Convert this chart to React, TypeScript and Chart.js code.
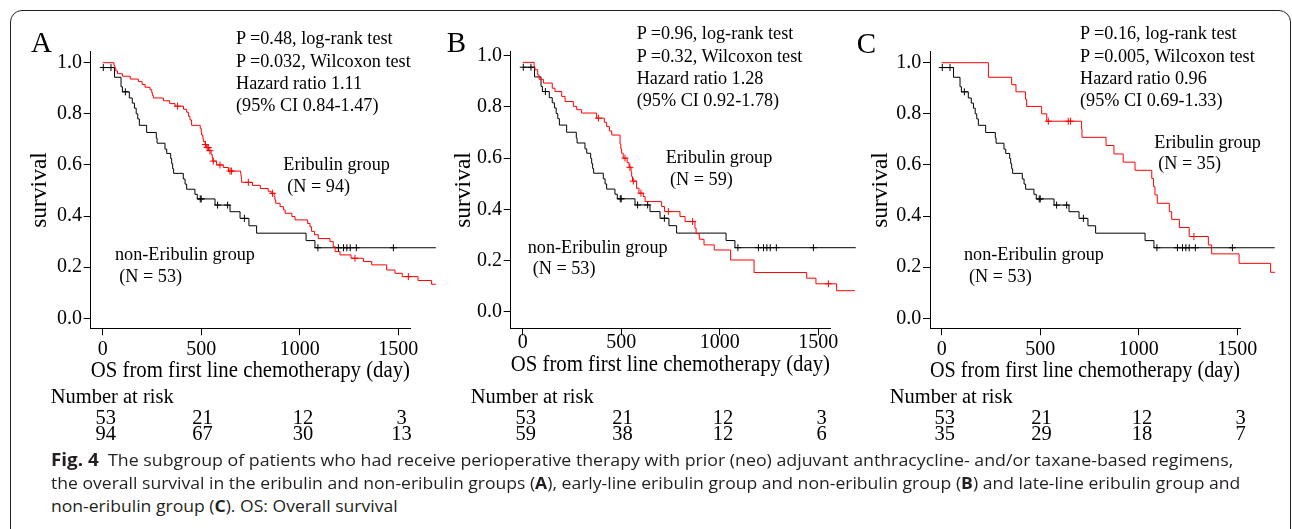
import React, { useEffect, useLayoutEffect, useRef } from "react";
import { Chart, registerables } from "chart.js";

Chart.register(...registerables);

const SERIF = "'Liberation Serif', 'Times New Roman', Times, serif";
const SANS = "'Open Sans', 'Noto Sans', 'DejaVu Sans', sans-serif";

// ---------- axes ----------
const X_TICKS = [0, 500, 1000, 1500];
const Y_TICKS = [0, 0.2, 0.4, 0.6, 0.8, 1.0];
const X_TITLE = "OS from first line chemotherapy (day)";
const Y_TITLE = "survival";

// ---------- non-Eribulin group (N = 53), read on the axes of panels A and C ----------
const nonEribDays = [0, 60, 93, 100, 135, 150, 161, 170, 178, 186, 223, 272, 276, 316, 325, 345, 350, 355, 360, 409, 418, 426, 468, 480, 570, 646, 697, 742, 781, 1032, 1077, 1690];
const nonEribSurv = [0.981, 0.943, 0.906, 0.886, 0.862, 0.842, 0.822, 0.8, 0.78, 0.755, 0.727, 0.705, 0.685, 0.662, 0.645, 0.625, 0.605, 0.585, 0.567, 0.545, 0.525, 0.505, 0.485, 0.467, 0.443, 0.417, 0.391, 0.362, 0.333, 0.304, 0.276, 0.276];
const nonEribCensor = [3, 42, 115, 495, 500, 583, 634, 719, 1092, 1196, 1222, 1239, 1256, 1287, 1475];
// same group as read on the (shifted) y axis of panel B
const nonEribSurvB = [0.955, 0.917, 0.88, 0.86, 0.836, 0.816, 0.796, 0.774, 0.754, 0.729, 0.701, 0.679, 0.659, 0.636, 0.619, 0.599, 0.579, 0.559, 0.541, 0.519, 0.499, 0.479, 0.459, 0.441, 0.417, 0.391, 0.365, 0.336, 0.307, 0.278, 0.25, 0.25];

// ---------- Eribulin group, panel A (N = 94) ----------
const eribADays = [0, 57, 62, 66, 75, 100, 140, 181, 200, 215, 240, 249, 252, 257, 308, 340, 367, 410, 426, 436, 443, 451, 495, 500, 502, 508, 511, 520, 526, 538, 550, 556, 559, 578, 612, 638, 700, 702, 704, 705, 760, 800, 840, 855, 870, 874, 878, 900, 917, 926, 960, 976, 1040, 1052, 1060, 1075, 1094, 1153, 1170, 1179, 1204, 1260, 1323, 1365, 1441, 1483, 1520, 1600, 1669, 1690];
const eribASurv = [1.0, 0.989, 0.979, 0.968, 0.957, 0.947, 0.936, 0.926, 0.915, 0.904, 0.894, 0.883, 0.872, 0.862, 0.851, 0.84, 0.83, 0.818, 0.806, 0.79, 0.776, 0.755, 0.742, 0.729, 0.717, 0.704, 0.692, 0.68, 0.668, 0.656, 0.64, 0.627, 0.615, 0.6, 0.59, 0.576, 0.566, 0.555, 0.543, 0.532, 0.52, 0.508, 0.497, 0.489, 0.476, 0.463, 0.45, 0.437, 0.424, 0.411, 0.398, 0.385, 0.371, 0.358, 0.34, 0.327, 0.312, 0.3, 0.28, 0.261, 0.248, 0.235, 0.222, 0.209, 0.189, 0.176, 0.163, 0.148, 0.133, 0.133];
const eribACensor = [380, 521, 530, 536, 544, 561, 595, 646, 654, 739, 862, 1280, 1551, 1636];

// ---------- Eribulin group, panel B (N = 59) ----------
const eribBDays = [0, 58, 62, 76, 83, 105, 150, 164, 198, 215, 257, 274, 299, 375, 414, 426, 440, 452, 494, 498, 502, 510, 530, 540, 550, 553, 557, 578, 590, 612, 621, 705, 720, 798, 824, 874, 880, 896, 920, 972, 1055, 1174, 1441, 1488, 1593, 1686];
const eribBSurv = [0.974, 0.957, 0.945, 0.925, 0.908, 0.893, 0.873, 0.86, 0.841, 0.821, 0.802, 0.789, 0.776, 0.756, 0.74, 0.723, 0.706, 0.69, 0.655, 0.636, 0.619, 0.6, 0.582, 0.564, 0.546, 0.528, 0.51, 0.482, 0.463, 0.45, 0.43, 0.411, 0.391, 0.372, 0.352, 0.326, 0.305, 0.283, 0.261, 0.241, 0.202, 0.153, 0.131, 0.109, 0.082, 0.082];
const eribBCensor = [384, 519, 544, 561, 600, 739, 862, 1551, 1636];

// ---------- Eribulin group, panel C (N = 35) ----------
const eribCDays = [0, 237, 355, 377, 425, 431, 507, 533, 710, 712, 834, 874, 921, 981, 1066, 1075, 1082, 1094, 1155, 1167, 1206, 1256, 1353, 1370, 1509, 1669, 1691];
const eribCSurv = [1.0, 0.943, 0.914, 0.886, 0.857, 0.829, 0.8, 0.771, 0.74, 0.708, 0.676, 0.643, 0.611, 0.579, 0.547, 0.515, 0.483, 0.45, 0.417, 0.387, 0.355, 0.32, 0.287, 0.252, 0.215, 0.18, 0.18];
const eribCCensor = [541, 642, 654, 1280];

// ---------- number at risk ----------
const riskNonErib = [53, 21, 12, 3];
const riskEribA = [94, 67, 30, 13];
const riskEribB = [59, 38, 12, 6];
const riskEribC = [35, 29, 18, 7];

// ---------- annotation texts ----------
const statsA = ["P =0.48, log-rank test", "P =0.032, Wilcoxon test", "Hazard ratio 1.11", "(95% CI 0.84-1.47)"];
const statsB = ["P =0.96, log-rank test", "P =0.32, Wilcoxon test", "Hazard ratio 1.28", "(95% CI 0.92-1.78)"];
const statsC = ["P =0.16, log-rank test", "P =0.005, Wilcoxon test", "Hazard ratio 0.96", "(95% CI 0.69-1.33)"];
const nLabelA = "(N = 94)";
const nLabelB = "(N = 59)";
const nLabelC = "(N = 35)";
const nLabelNon = "(N = 53)";
const ERIB_LABEL = "Eribulin group";
const NON_LABEL = "non-Eribulin group";

const RED = "#ff0000";
const BLACK = "#000000";

function survAt(days: number[], surv: number[], t: number): number {
  let v = surv[0];
  for (let i = 0; i < days.length; i++) {
    if (days[i] <= t) v = surv[i];
    else break;
  }
  return v;
}

type Series = { days: number[]; surv: number[]; censor: number[]; color: string };
type PanelDef = {
  left: number;
  width: number;
  height: number;
  area: { l: number; r: number; t: number; b: number };
  day0: number;
  ppd: number;
  y0: number;
  y1: number;
  xTickCy: number;
  xTitleCy: number;
  yTitleCx: number;
  series: Series[];
};

const TICK_FONT = 20;
const TITLE_FONT = 23.5;
const TICK_LEN = 7;

function KMPanel({ def }: { def: PanelDef }) {
  const ref = useRef<HTMLCanvasElement>(null);
  useEffect(() => {
    const c = ref.current;
    if (!c) return;
    const { area, day0, ppd, y0, y1, width: W, height: H } = def;
    const xMin = (area.l - day0) / ppd;
    const xMax = (area.r - day0) / ppd;
    const upp = 1 / (y0 - y1);
    const yMin = -(area.b - y0) * upp;
    const yMax = 1 + (y1 - area.t) * upp;
    const datasets: any[] = [];
    def.series.forEach((s) => {
      datasets.push({
        type: "line",
        data: s.days.map((d, i) => ({ x: d, y: s.surv[i] })),
        borderColor: s.color,
        borderWidth: 1,
        pointRadius: 0,
        stepped: true,
        fill: false,
        clip: false,
      });
      datasets.push({
        type: "line",
        data: s.censor.map((d) => ({ x: d, y: survAt(s.days, s.surv, d) })),
        showLine: false,
        pointStyle: "cross",
        pointRadius: 3.5,
        pointBorderColor: s.color,
        pointBorderWidth: 1,
        borderColor: s.color,
        backgroundColor: s.color,
        clip: false,
      });
    });
    const tickLH = TICK_FONT * 1.2;
    const titleLH = TITLE_FONT * 1.2;
    const xTickPad = def.xTickCy - area.b - TICK_LEN - tickLH / 2;
    const xTitlePadBottom = H - def.xTitleCy - titleLH / 2;
    const yTitlePadTop = def.yTitleCx - titleLH / 2;
    const gridOpts = {
      display: true,
      drawOnChartArea: false,
      drawTicks: true,
      tickLength: TICK_LEN,
      color: "#000",
      lineWidth: 1,
    };
    const chart = new Chart(c, {
      type: "line",
      data: { datasets },
      options: {
        animation: false,
        responsive: false,
        maintainAspectRatio: false,
        events: [],
        layout: { padding: { left: 0, top: area.t, right: W - area.r, bottom: 0 } },
        plugins: { legend: { display: false }, tooltip: { enabled: false }, title: { display: false } },
        scales: {
          x: {
            type: "linear",
            bounds: "data",
            afterDataLimits: (s: any) => {
              s.min = xMin;
              s.max = xMax;
            },
            afterBuildTicks: (s: any) => {
              s.ticks = X_TICKS.map((v) => ({ value: v }));
            },
            afterFit: (s: any) => {
              s.height = H - area.b;
            },
            grid: gridOpts,
            border: { display: true, color: "#000", width: 1 },
            ticks: {
              color: "#000",
              font: { family: SERIF, size: TICK_FONT },
              padding: xTickPad,
              maxRotation: 0,
              autoSkip: false,
              callback: (v: any) => String(v),
            },
            title: {
              display: true,
              text: X_TITLE,
              color: "#000",
              font: { family: SERIF, size: TITLE_FONT },
              padding: { top: 0, bottom: xTitlePadBottom },
            },
          },
          y: {
            type: "linear",
            bounds: "data",
            min: yMin,
            max: yMax,
            afterBuildTicks: (s: any) => {
              s.ticks = Y_TICKS.map((v) => ({ value: v }));
            },
            afterFit: (s: any) => {
              s.width = area.l;
            },
            grid: gridOpts,
            border: { display: true, color: "#000", width: 1 },
            ticks: {
              color: "#000",
              font: { family: SERIF, size: TICK_FONT },
              padding: 1.7,
              autoSkip: false,
              callback: (v: any) => Number(v).toFixed(1),
            },
            title: {
              display: true,
              text: Y_TITLE,
              color: "#000",
              font: { family: SERIF, size: TITLE_FONT },
              padding: { top: yTitlePadTop, bottom: 0 },
            },
          },
        },
      } as any,
    });
    return () => chart.destroy();
  }, [def]);
  return (
    <canvas
      ref={ref}
      width={def.width}
      height={def.height}
      style={{ position: "absolute", left: def.left, top: 0, width: def.width, height: def.height }}
    />
  );
}

const AREA_AB = { l: 90.7, r: 410, t: 51.7, b: 328.3 };

const PANELS: PanelDef[] = [
  {
    left: 0, width: 440, height: 400, area: AREA_AB, day0: 102.7, ppd: 0.19707, y0: 318.3, y1: 62.7,
    xTickCy: 350, xTitleCy: 370.5, yTitleCx: 40,
    series: [
      { days: eribADays, surv: eribASurv, censor: eribACensor, color: RED },
      { days: nonEribDays, surv: nonEribSurv, censor: nonEribCensor, color: BLACK },
    ],
  },
  {
    left: 420, width: 440, height: 400, area: AREA_AB, day0: 102.7, ppd: 0.19707, y0: 311.7, y1: 55.7,
    xTickCy: 343, xTitleCy: 364.5, yTitleCx: 43.5,
    series: [
      { days: eribBDays, surv: eribBSurv, censor: eribBCensor, color: RED },
      { days: nonEribDays, surv: nonEribSurvB, censor: nonEribCensor, color: BLACK },
    ],
  },
  {
    left: 839, width: 453, height: 400, area: { l: 91, r: 401, t: 51.7, b: 328.3 }, day0: 102.7, ppd: 0.19707, y0: 318.3, y1: 62.7,
    xTickCy: 350, xTitleCy: 370.5, yTitleCx: 42,
    series: [
      { days: eribCDays, surv: eribCSurv, censor: eribCCensor, color: RED },
      { days: nonEribDays, surv: nonEribSurv, censor: nonEribCensor, color: BLACK },
    ],
  },
];

function Txt(props: {
  x: number; cy: number; size: number; text: string; center?: boolean; family?: string; bold?: boolean; lh?: number;
}) {
  const lh = props.lh ?? Math.round(props.size * 1.25);
  return (
    <div
      style={{
        position: "absolute",
        left: props.x,
        top: props.cy - lh / 2,
        height: lh,
        lineHeight: lh + "px",
        fontSize: props.size,
        fontFamily: props.family ?? SERIF,
        fontWeight: props.bold ? 700 : 400,
        whiteSpace: "pre",
        color: "#000",
        transform: props.center ? "translateX(-50%)" : undefined,
      }}
    >
      {props.text}
    </div>
  );
}

type PanelText = {
  letter: string; letterX: number; letterCy: number;
  stats: string[]; statsX: number; statsCy: number[];
  erX: number; erCy: number; erNX: number; erNCy: number; erN: string;
  nonX: number; nonCy: number; nonNX: number; nonNCy: number;
  riskX: number; riskCols: number[]; riskErib: number[];
};

const TEXTS: PanelText[] = [
  {
    letter: "A", letterX: 31, letterCy: 42,
    stats: statsA, statsX: 236, statsCy: [38.3, 60.7, 82.7, 105],
    erX: 283.3, erCy: 164, erNX: 287.3, erNCy: 185.7, erN: nLabelA,
    nonX: 115, nonCy: 254, nonNX: 119.3, nonNCy: 276,
    riskX: 50.7, riskCols: [105.8, 202.5, 303, 401.5], riskErib: riskEribA,
  },
  {
    letter: "B", letterX: 446.7, letterCy: 42,
    stats: statsB, statsX: 636.7, statsCy: [33.3, 55.7, 77.7, 100],
    erX: 665.7, erCy: 156.7, erNX: 670, erNCy: 179, erN: nLabelB,
    nonX: 527.7, nonCy: 246.7, nonNX: 532.7, nonNCy: 268.3,
    riskX: 470.7, riskCols: [525.8, 622.5, 723, 821.5], riskErib: riskEribB,
  },
  {
    letter: "C", letterX: 856.7, letterCy: 43.3,
    stats: statsC, statsX: 1080, statsCy: [33.3, 55.7, 77.7, 100],
    erX: 1154.3, erCy: 142.3, erNX: 1158.3, erNCy: 163.3, erN: nLabelC,
    nonX: 964, nonCy: 254, nonNX: 969, nonNCy: 276,
    riskX: 889.7, riskCols: [944.8, 1041.5, 1142, 1240.5], riskErib: riskEribC,
  },
];

const STAT_FONT = 18.2;
const RISK_FONT = 20.5;

function PanelTexts({ t }: { t: PanelText }) {
  return (
    <>
      <Txt x={t.letterX} cy={t.letterCy} size={29} text={t.letter} />
      {t.stats.map((s, i) => (
        <Txt key={i} x={t.statsX} cy={t.statsCy[i]} size={STAT_FONT} text={s} lh={22} />
      ))}
      <Txt x={t.erX} cy={t.erCy} size={STAT_FONT} text={ERIB_LABEL} lh={22} />
      <Txt x={t.erNX} cy={t.erNCy} size={STAT_FONT} text={t.erN} lh={22} />
      <Txt x={t.nonX} cy={t.nonCy} size={STAT_FONT} text={NON_LABEL} lh={22} />
      <Txt x={t.nonNX} cy={t.nonNCy} size={STAT_FONT} text={nLabelNon} lh={22} />
      <Txt x={t.riskX} cy={396} size={RISK_FONT} text="Number at risk" lh={18} />
      {riskNonErib.map((n, i) => (
        <Txt key={"n" + i} x={t.riskCols[i]} cy={417} size={RISK_FONT} text={String(n)} center lh={16} />
      ))}
      {t.riskErib.map((n, i) => (
        <Txt key={"e" + i} x={t.riskCols[i]} cy={433} size={RISK_FONT} text={String(n)} center lh={16} />
      ))}
    </>
  );
}

const CAPTION_FONT = 16;
const CAPTION_X = 50.7;
const CAPTION_CY = [460, 483, 506];
const CAPTION_TARGET = [1233 - 50.7, 1240 - 50.7];

function Caption() {
  const r1 = useRef<HTMLDivElement>(null);
  const r2 = useRef<HTMLDivElement>(null);
  const r3 = useRef<HTMLDivElement>(null);
  useLayoutEffect(() => {
    const els = [r1.current, r2.current, r3.current];
    if (els.some((e) => !e)) return;
    const w1 = els[0]!.getBoundingClientRect().width;
    const w2 = els[1]!.getBoundingClientRect().width;
    const s1 = w1 > 0 ? CAPTION_TARGET[0] / w1 : 1;
    const s2 = w2 > 0 ? CAPTION_TARGET[1] / w2 : 1;
    els[0]!.style.transform = `scaleX(${s1})`;
    els[1]!.style.transform = `scaleX(${s2})`;
    els[2]!.style.transform = `scaleX(${s2})`;
  }, []);
  const lh = 20;
  const base: React.CSSProperties = {
    position: "absolute",
    left: CAPTION_X,
    height: lh,
    lineHeight: lh + "px",
    fontSize: CAPTION_FONT,
    fontFamily: SANS,
    whiteSpace: "pre",
    color: "#231f20",
    transformOrigin: "0 50%",
    display: "inline-block",
  };
  return (
    <>
      <div ref={r1} style={{ ...base, top: CAPTION_CY[0] - lh / 2 }}>
        <b style={{ fontSize: 17 }}>Fig. 4</b>
        {"  The subgroup of patients who had receive perioperative therapy with prior (neo) adjuvant anthracycline- and/or taxane-based regimens,"}
      </div>
      <div ref={r2} style={{ ...base, top: CAPTION_CY[1] - lh / 2 }}>
        {"the overall survival in the eribulin and non-eribulin groups ("}
        <b>A</b>
        {"), early-line eribulin group and non-eribulin group ("}
        <b>B</b>
        {") and late-line eribulin group and"}
      </div>
      <div ref={r3} style={{ ...base, top: CAPTION_CY[2] - lh / 2 }}>
        {"non-eribulin group ("}
        <b>C</b>
        {"). OS: Overall survival"}
      </div>
    </>
  );
}

export default function App() {
  return (
    <div
      style={{
        position: "absolute",
        left: 0,
        top: 0,
        width: 1292,
        height: 529,
        background: "#fff",
        overflow: "hidden",
      }}
    >
      <div
        style={{
          position: "absolute",
          left: 10,
          top: 10,
          width: 1281,
          height: 600,
          border: "1.3px solid #222",
          borderRadius: 12,
          boxSizing: "border-box",
        }}
      />
      {PANELS.map((p, i) => (
        <KMPanel key={i} def={p} />
      ))}
      {TEXTS.map((t, i) => (
        <PanelTexts key={i} t={t} />
      ))}
      <Caption />
    </div>
  );
}
